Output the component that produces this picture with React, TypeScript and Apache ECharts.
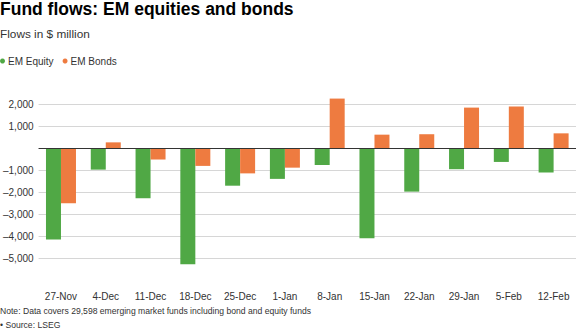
import React, { useEffect, useRef } from "react";
import * as echarts from "echarts";

const categories = ["27-Nov", "4-Dec", "11-Dec", "18-Dec", "25-Dec", "1-Jan", "8-Jan", "15-Jan", "22-Jan", "29-Jan", "5-Feb", "12-Feb"];
const emEquity = [-4150, -970, -2270, -5270, -1700, -1390, -760, -4090, -1970, -950, -620, -1100];
const emBonds = [-2500, 270, -510, -800, -1140, -880, 2260, 620, 640, 1850, 1900, 680];
const titleText = "Fund flows: EM equities and bonds";
const subtitleText = "Flows in $ million";
const noteText = "Note: Data covers 29,598 emerging market funds including bond and equity funds";
const sourceText = "• Source: LSEG";

const FONT = "'Liberation Sans', Arial, Helvetica, sans-serif";
const GREEN = "#50a845";
const ORANGE = "#ee7b40";

export default function App() {
  const ref = useRef<HTMLDivElement>(null);
  useEffect(() => {
    document.body.style.margin = "0";
    if (!ref.current) return;
    const chart = echarts.init(ref.current, undefined, { renderer: "svg" });
    chart.setOption({
      animation: false,
      textStyle: { fontFamily: FONT },
      title: [
        {
          text: titleText,
          left: 0,
          top: 0,
          padding: 0,
          textStyle: { fontSize: 17.5, fontWeight: "bold", color: "#000", fontFamily: FONT },
        },
        {
          text: subtitleText,
          left: 0,
          top: 27.5,
          padding: 0,
          textStyle: { fontSize: 11.8, fontWeight: "normal", color: "#333", fontFamily: FONT },
        },
      ],
      legend: {
        left: 0,
        top: 56,
        padding: 0,
        icon: "circle",
        itemWidth: 5,
        itemHeight: 5,
        itemGap: 9,
        textStyle: { fontSize: 10, color: "#333", fontFamily: FONT, padding: [0, 0, 0, -2] },
        data: ["EM Equity", "EM Bonds"],
      },
      grid: { left: 36, right: 0, top: 104.3, bottom: 72.7, containLabel: false },
      xAxis: {
        type: "category",
        data: categories,
        axisLine: { show: false, onZero: false },
        axisTick: { show: false },
        axisLabel: { fontSize: 10, color: "#333", margin: 33, fontFamily: FONT, interval: 0 },
      },
      yAxis: {
        type: "value",
        min: -5000,
        max: 2000,
        interval: 1000,
        axisLine: { show: false },
        axisTick: { show: false },
        splitLine: { lineStyle: { color: "#d6d6d6", width: 1 } },
        axisLabel: {
          fontSize: 10,
          color: "#333",
          margin: 5,
          fontFamily: FONT,
          formatter: (v: number) => {
            if (v === 0) return "";
            const s = Math.abs(v).toLocaleString("en-US");
            return v < 0 ? "\u2013" + s : s;
          },
        },
      },
      series: [
        {
          name: "EM Equity",
          type: "bar",
          data: emEquity,
          barWidth: 15,
          barGap: "0%",
          clip: false,
          itemStyle: { color: GREEN },
          markLine: {
            silent: true,
            symbol: "none",
            label: { show: false },
            lineStyle: { color: "#333", width: 1, type: "solid" },
            data: [{ yAxis: 0 }],
          },
        },
        {
          name: "EM Bonds",
          type: "bar",
          data: emBonds,
          barWidth: 15,
          barGap: "0%",
          clip: false,
          itemStyle: { color: ORANGE },
        },
      ],
      graphic: [
        {
          type: "text",
          left: 0,
          top: 306,
          style: { text: noteText, fontSize: 8.6, fill: "#333", fontFamily: FONT },
        },
        {
          type: "text",
          left: 0,
          top: 320,
          style: { text: sourceText, fontSize: 8.6, fill: "#333", fontFamily: FONT },
        },
      ],
    });
    return () => chart.dispose();
  }, []);
  return <div ref={ref} style={{ width: 576, height: 331 }} />;
}
